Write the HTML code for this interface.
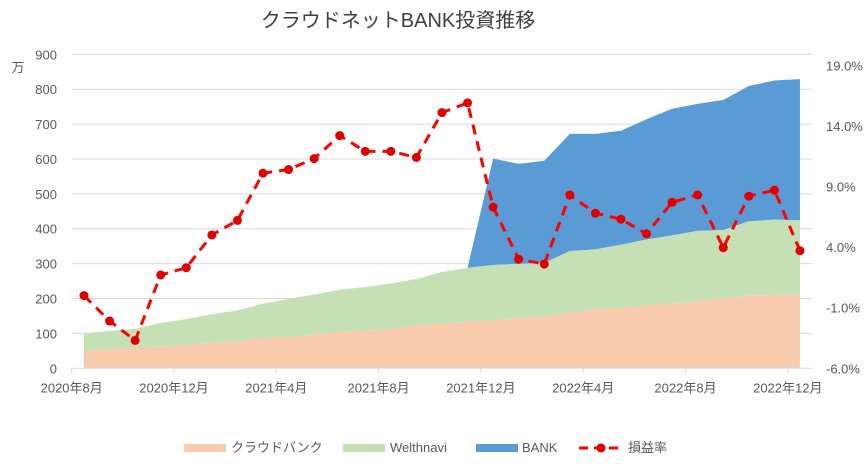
<!DOCTYPE html>
<html><head><meta charset="utf-8"><style>
html,body{margin:0;padding:0;background:#fff;}
svg{display:block;font-family:"Liberation Sans","Noto Sans CJK JP",sans-serif;}
</style></head><body>
<svg id="c" width="868" height="468" viewBox="0 0 868 468">
<text x="398" y="27" text-anchor="middle" font-size="20" fill="#404040">クラウドネットBANK投資推移</text>
<text x="18" y="72" text-anchor="middle" font-size="13" fill="#595959">万</text>
<g id="grid"></g>
<g id="areas"></g>
<g id="axes"></g>
<g id="line"></g>
<g>
<rect x="184" y="444" width="42" height="8" fill="#f8cbad"/>
<text x="231" y="452" font-size="13" fill="#595959">クラウドバンク</text>
<rect x="343" y="444" width="42" height="8" fill="#c5e0b4"/>
<text x="390" y="452" font-size="13" fill="#595959">Welthnavi</text>
<rect x="476" y="444" width="42" height="8" fill="#5b9bd5"/>
<text x="522" y="452" font-size="13" fill="#595959">BANK</text>
<line x1="579" y1="448" x2="623" y2="448" stroke="#ff0000" stroke-width="3" stroke-dasharray="9,6"/>
<circle cx="601" cy="448" r="4.5" fill="#e00000"/>
<text x="628" y="452" font-size="13" fill="#595959">損益率</text>
</g>
</svg>
<script>
const crowdbank=[50,54,60,62,67,73,78,87,89,96,104,107,113,123,128,133,138,143,150,158,168,174,180,186,192,201,209,210,213];
const welthnavi=[50,53,53,68,74,82,88,98,110,115,121,126,130,133,148,155,158,156,152,178,173,180,189,195,202,195,212,216,211];
const bank=[0,0,0,0,0,0,0,0,0,0,0,0,0,0,0,0,305,287,293,336,331,327,345,363,364,373,388,399,405];
const profitRate=[0.0,-2.1,-3.7,1.7,2.3,5.0,6.2,10.1,10.4,11.3,13.2,11.9,11.9,11.4,15.1,15.9,7.3,3.0,2.6,8.3,6.8,6.3,5.1,7.7,8.3,3.95,8.2,8.7,3.7];
const leftTicks=[0,100,200,300,400,500,600,700,800,900];
const rightTicks=["-6.0%","-1.0%","4.0%","9.0%","14.0%","19.0%"];
const rightTickVals=[-6,-1,4,9,14,19];
const xLabels=["2020年8月","2020年12月","2021年4月","2021年8月","2021年12月","2022年4月","2022年8月","2022年12月"];
const NS="http://www.w3.org/2000/svg";
const X0=71.7,X1=812,Y0=368.3,YT=54.3;
function xs(i){return 84+i*25.57;}
function yl(v){return Y0-(v/900)*(Y0-YT);}
function yr(v){return Y0-(v+6)*12.12;}
function mk(tag,attrs,parent){const e=document.createElementNS(NS,tag);for(const k in attrs)e.setAttribute(k,attrs[k]);parent.appendChild(e);return e;}
const grid=document.getElementById('grid'),axes=document.getElementById('axes'),areas=document.getElementById('areas'),line=document.getElementById('line');
leftTicks.forEach(v=>{
  if(v>0){const g=mk('line',{x1:X0,x2:X1,y1:yl(v),y2:yl(v),stroke:'#d9d9d9','stroke-width':1},grid);
  
  }
  const t=mk('text',{x:57,y:yl(v)+5,'text-anchor':'end','font-size':13,fill:'#595959'},axes);
  t.textContent=v;
  
  
});
rightTickVals.forEach((v,k)=>{
  const t=mk('text',{x:826,y:yr(v)+5,'font-size':13,fill:'#595959'},axes);
  t.textContent=rightTicks[k];
  
  
});
const s1=crowdbank.slice(),s2=crowdbank.map((v,i)=>v+welthnavi[i]),s3=s2.map((v,i)=>v+bank[i]);
function areaPath(top,bot,from){let d='';for(let i=from;i<top.length;i++)d+=(i===from?'M':'L')+xs(i)+','+yl(top[i]);for(let i=top.length-1;i>=from;i--)d+='L'+xs(i)+','+yl(bot[i]);return d+'Z';}
const zero=crowdbank.map(()=>0);
const bStart=bank.findIndex(v=>v>0)-1;
const a3=mk('path',{d:areaPath(s3,s2,Math.max(bStart,0)),fill:'#5b9bd5'},areas);


const a2=mk('path',{d:areaPath(s2,s1,0),fill:'#c5e0b4'},areas);


const a1=mk('path',{d:areaPath(s1,zero,0),fill:'#f8cbad'},areas);


const ax=mk('line',{x1:X0,x2:X1,y1:Y0,y2:Y0,stroke:'#d9d9d9','stroke-width':1},axes);


xLabels.forEach((l,k)=>{
  const x=X0+k*102.3;
  const tk=mk('line',{x1:x,x2:x,y1:Y0,y2:Y0+5,stroke:'#d9d9d9'},axes);
  
  
  const t=mk('text',{x:x,y:Y0+24,'text-anchor':'middle','font-size':13,fill:'#595959'},axes);
  t.textContent=l;
  
  
});
const pts=profitRate.map((v,i)=>xs(i)+','+yr(v)).join(' ');
const pl=mk('polyline',{points:pts,fill:'none',stroke:'#ff0000','stroke-width':3,'stroke-dasharray':'10,7'},line);


profitRate.forEach((v,i)=>{
  const c=mk('circle',{cx:xs(i),cy:yr(v),r:4.5,fill:'#e00000'},line);
  
  
});
</script>
</body></html>
